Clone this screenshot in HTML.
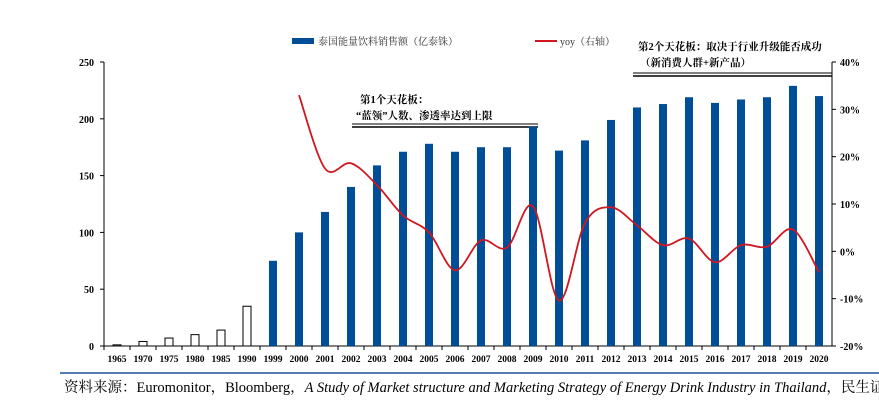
<!DOCTYPE html>
<html><head><meta charset="utf-8"><style>
body{margin:0;background:#fff;width:879px;height:400px;overflow:hidden}
svg{display:block}
text{font-family:"Liberation Serif","Noto Serif CJK SC",serif}
</style></head><body>
<svg id="c" width="879" height="400">
<g id="legend">
 <rect x="292" y="38" width="22" height="6" fill="#004e98"/>
 <text x="318" y="45" font-size="10" fill="#333">泰国能量饮料销售额（亿泰铢）</text>
 <line x1="535" y1="41" x2="557" y2="41" stroke="#d0161e" stroke-width="2"/>
 <text x="560" y="45" font-size="10" fill="#333">yoy（右轴）</text>
</g>
<g>
 <text x="638" y="50" font-size="10.5" font-weight="bold">第2个天花板：取决于行业升级能否成功</text>
 <text x="640" y="66" font-size="10.5" font-weight="bold">（新消费人群+新产品）</text>
 <line x1="633" y1="73" x2="832" y2="73" stroke="#000" stroke-width="1"/>
 <line x1="633" y1="76" x2="832" y2="76" stroke="#000" stroke-width="1.5"/>
</g>
<g>
 <text x="360" y="103" font-size="10.5" font-weight="bold">第1个天花板：</text>
 <text x="356" y="119" font-size="10.5" font-weight="bold">“蓝领”人数、渗透率达到上限</text>
 <line x1="352" y1="124" x2="538" y2="124" stroke="#000" stroke-width="1"/>
 <line x1="352" y1="127" x2="538" y2="127" stroke="#000" stroke-width="1.5"/>
</g>
<line x1="60" y1="373" x2="879" y2="373" stroke="#1f4e9a" stroke-width="1.5"/>
<text x="64" y="392" font-size="14.5">资料来源：Euromonitor，Bloomberg，<tspan font-style="italic">A Study of Market structure and Marketing Strategy of Energy Drink Industry in Thailand</tspan>，民生证券</text>
</svg>
<script>
const categories=["1965","1970","1975","1980","1985","1990","1999","2000","2001","2002","2003","2004","2005","2006","2007","2008","2009","2010","2011","2012","2013","2014","2015","2016","2017","2018","2019","2020"];
const sales=[1,4,7,10,14,35,75,100,118,140,159,171,178,171,175,175,193,172,181,199,210,213,219,214,217,219,229,220];
const hollow=[true,true,true,true,true,true,false,false,false,false,false,false,false,false,false,false,false,false,false,false,false,false,false,false,false,false,false,false];
const yoyYears=["2000","2001","2002","2003","2004","2005","2006","2007","2008","2009","2010","2011","2012","2013","2014","2015","2016","2017","2018","2019","2020"];
const yoy=[33,17.5,18.6,14,7.6,4,-4,2.3,0.8,9.5,-10.4,6,9.3,5.5,1.3,2.7,-2.3,1.3,1,4.6,-4.4];
const leftTicks=[0,50,100,150,200,250];
const rightTicks=[-20,-10,0,10,20,30,40];
const rightTickLabels=["-20%","-10%","0%","10%","20%","30%","40%"];

const svg=document.getElementById('c');const NS="http://www.w3.org/2000/svg";
const L=104,R=832,T=62,B=346;
const slot=(R-L)/categories.length;
const xC=c=>L+(categories.indexOf(c)+0.5)*slot;
const yL=v=>B-(v/250)*(B-T);
const yR=v=>B-((v+20)/60)*(B-T);
function mk(t,a,p){const e=document.createElementNS(NS,t);for(const k in a)e.setAttribute(k,a[k]);(p||svg).appendChild(e);return e;}
const ax=mk('g',{});


mk('line',{x1:L,y1:T,x2:L,y2:B,stroke:'#000'},ax);
mk('line',{x1:R,y1:T,x2:R,y2:B,stroke:'#000'},ax);
mk('line',{x1:L,y1:B,x2:R,y2:B,stroke:'#000'},ax);
leftTicks.forEach(v=>{mk('line',{x1:L-4,y1:yL(v),x2:L,y2:yL(v),stroke:'#000'},ax);
 const t=mk('text',{x:L-10,y:yL(v)+4,'font-size':10,'font-weight':'bold','text-anchor':'end'},ax);t.textContent=v;
 
 });
rightTicks.forEach((v,i)=>{mk('line',{x1:R,y1:yR(v),x2:R+4,y2:yR(v),stroke:'#000'},ax);
 const t=mk('text',{x:R+8,y:yR(v)+4,'font-size':10,'font-weight':'bold'},ax);t.textContent=rightTickLabels[i];
 
 });
categories.forEach((c,i)=>{const x=L+i*slot;mk('line',{x1:x,y1:B,x2:x,y2:B+4,stroke:'#000'},ax);
 const t=mk('text',{x:xC(c),y:B+16,'font-size':9.5,'font-weight':'bold','text-anchor':'middle'},ax);t.textContent=c;
 
 });
mk('line',{x1:R,y1:B,x2:R+4,y2:B,stroke:'#000'},ax);
categories.forEach((c,i)=>{const x=xC(c)-4,y=yL(sales[i]);
 const b=mk('rect',{x:x,y:y,width:8,height:B-y,fill:hollow[i]?'#fff':'#004e98',stroke:hollow[i]?'#000':'none','stroke-width':1});
 
 });
const pts=yoyYears.map((c,i)=>[xC(c),yR(yoy[i])]);
let d='M'+pts[0][0]+','+pts[0][1];
for(let i=0;i<pts.length-1;i++){const p0=pts[i-1]||pts[i],p1=pts[i],p2=pts[i+1],p3=pts[i+2]||p2;
 d+=' C'+(p1[0]+(p2[0]-p0[0])/6)+','+(p1[1]+(p2[1]-p0[1])/6)+' '+(p2[0]-(p3[0]-p1[0])/6)+','+(p2[1]-(p3[1]-p1[1])/6)+' '+p2[0]+','+p2[1];}
const ln=mk('path',{d:d,fill:'none',stroke:'#d0161e','stroke-width':1.8});


</script>
</body></html>
